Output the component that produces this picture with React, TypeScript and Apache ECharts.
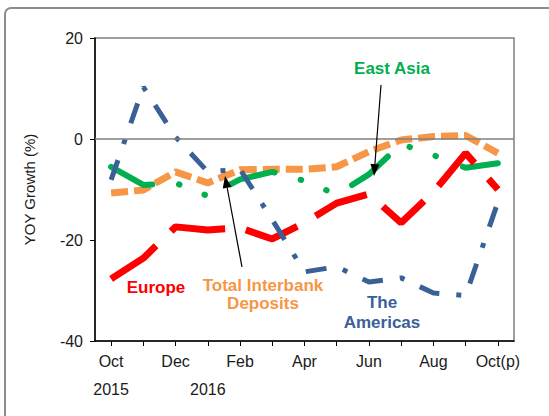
import React, { useEffect, useRef } from "react";
import * as echarts from "echarts";

const months = ["Oct", "Nov", "Dec", "Jan", "Feb", "Mar", "Apr", "May", "Jun", "Jul", "Aug", "Sep", "Oct(p)"];
const years = ["2015", "", "", "2016", "", "", "", "", "", "", "", "", ""];
const yTicks = { min: -40, max: 20, interval: 20 };

const totalInterbank = [-10.7, -10.1, -6.5, -8.7, -6.1, -6, -6, -5.5, -2.5, -0.2, 0.5, 0.7, -2.8];
const eastAsia = [-5.5, -9.1, -8.7, -11.3, -8, -6.5, -8.3, -11, -7, -1, -3.2, -5.7, -4.8];
const europe = [-27.7, -23.6, -17.4, -18, -17.6, -19.8, -16.6, -12.7, -10.9, -16.6, -10.5, -2.8, -10];
const americas = [-8.1, 10.3, 0.4, -6.5, -6, -16, -26.3, -25.3, -28.3, -27.5, -30.5, -31, -12.5];

const FONT = "Arial, 'Liberation Sans', sans-serif";
const C_RED = "#FF0000";
const C_GREEN = "#00B050";
const C_ORANGE = "#F79646";
const C_BLUE = "#3A6098";

function arrow(x1: number, y1: number, x2: number, y2: number) {
  const dx = x2 - x1;
  const dy = y2 - y1;
  const len = Math.sqrt(dx * dx + dy * dy);
  const ux = dx / len;
  const uy = dy / len;
  const L = 12;
  const W = 4.5;
  const bx = x2 - ux * L;
  const by = y2 - uy * L;
  return [
    {
      type: "line",
      shape: { x1, y1, x2: bx, y2: by },
      style: { stroke: "#000", lineWidth: 1.2 },
      z: 100,
    },
    {
      type: "polygon",
      shape: {
        points: [
          [x2, y2],
          [bx - uy * W, by + ux * W],
          [bx + uy * W, by - ux * W],
        ],
      },
      style: { fill: "#000" },
      z: 100,
    },
  ];
}

function label(text: string, x: number, y: number, color: string, lineHeight = 20) {
  return {
    type: "text",
    x,
    y,
    z: 100,
    style: {
      text,
      fill: color,
      font: `bold 17px ${FONT}`,
      textAlign: "center",
      textVerticalAlign: "middle",
      lineHeight,
    },
  };
}

export default function App() {
  const ref = useRef<HTMLDivElement>(null);

  useEffect(() => {
    if (!ref.current) return;
    const chart = echarts.init(ref.current, undefined, { renderer: "svg" });
    const option: any = {
      animation: false,
      backgroundColor: "#ffffff",
      grid: {
        left: 95,
        right: 35,
        top: 38,
        bottom: 75,
        show: true,
        borderColor: "#7f7f7f",
        borderWidth: 1.5,
        backgroundColor: "transparent",
      },
      xAxis: [
        {
          type: "category",
          data: months,
          boundaryGap: true,
          position: "bottom",
          axisLine: { show: true, onZero: false, lineStyle: { color: "#000", width: 1.5 } },
          axisTick: { show: true, alignWithLabel: true, interval: 0, length: 5, lineStyle: { color: "#000" } },
          axisLabel: { interval: 1, fontSize: 16, color: "#1a1a1a", fontFamily: FONT, margin: 12 },
          splitLine: { show: false },
        },
        {
          type: "category",
          data: years,
          boundaryGap: true,
          position: "bottom",
          offset: 28,
          axisLine: { show: false },
          axisTick: { show: false },
          axisLabel: { interval: 0, fontSize: 16, color: "#1a1a1a", fontFamily: FONT, margin: 12 },
          splitLine: { show: false },
        },
      ],
      yAxis: {
        type: "value",
        min: yTicks.min,
        max: yTicks.max,
        interval: yTicks.interval,
        name: "YOY Growth (%)",
        nameLocation: "middle",
        nameGap: 58,
        nameTextStyle: { fontSize: 15, color: "#1a1a1a", fontFamily: FONT },
        axisLine: { show: true, lineStyle: { color: "#000", width: 1.5 } },
        axisTick: { show: true, length: 5, lineStyle: { color: "#000" } },
        axisLabel: { fontSize: 16, color: "#1a1a1a", fontFamily: FONT, margin: 12 },
        splitLine: { show: false },
      },
      series: [
        {
          name: "zero",
          type: "line",
          data: [],
          silent: true,
          markLine: {
            silent: true,
            symbol: ["none", "none"],
            label: { show: false },
            lineStyle: { color: "#7f7f7f", type: "solid", width: 1.5 },
            data: [{ yAxis: 0 }],
          },
        },
        {
          name: "Total Interbank Deposits",
          type: "line",
          data: totalInterbank,
          symbol: "none",
          lineStyle: { color: C_ORANGE, width: 7, type: [17, 6], cap: "butt" },
        },
        {
          name: "East Asia",
          type: "line",
          data: eastAsia,
          symbol: "none",
          lineStyle: { color: C_GREEN, width: 6, type: [46, 27, 0.5, 27, 0.5, 29], cap: "round" },
        },
        {
          name: "Europe",
          type: "line",
          data: europe,
          symbol: "none",
          lineStyle: { color: C_RED, width: 7, type: [56, 21], cap: "butt" },
        },
        {
          name: "The Americas",
          type: "line",
          data: americas,
          symbol: "none",
          lineStyle: { color: C_BLUE, width: 5, type: [21, 17, 5, 17], cap: "butt" },
        },
      ],
      graphic: [
        {
          type: "rect",
          shape: { x: 5, y: 8, width: 580, height: 440, r: 6 },
          style: { fill: "none", stroke: "#8c8c8c", lineWidth: 2 },
          z: 0,
          silent: true,
        },
        label("East Asia", 392, 68, C_GREEN),
        label("Europe", 156, 287, C_RED),
        label("Total Interbank\nDeposits", 263, 294, C_ORANGE, 18),
        label("The\nAmericas", 382, 312, C_BLUE, 20),
        ...arrow(381, 85, 374, 176),
        ...arrow(242, 267, 225, 176),
      ],
    };
    chart.setOption(option);
    return () => chart.dispose();
  }, []);

  return (
    <div
      ref={ref}
      style={{ position: "fixed", left: 0, top: 0, width: 549, height: 416, background: "#fff" }}
    />
  );
}
